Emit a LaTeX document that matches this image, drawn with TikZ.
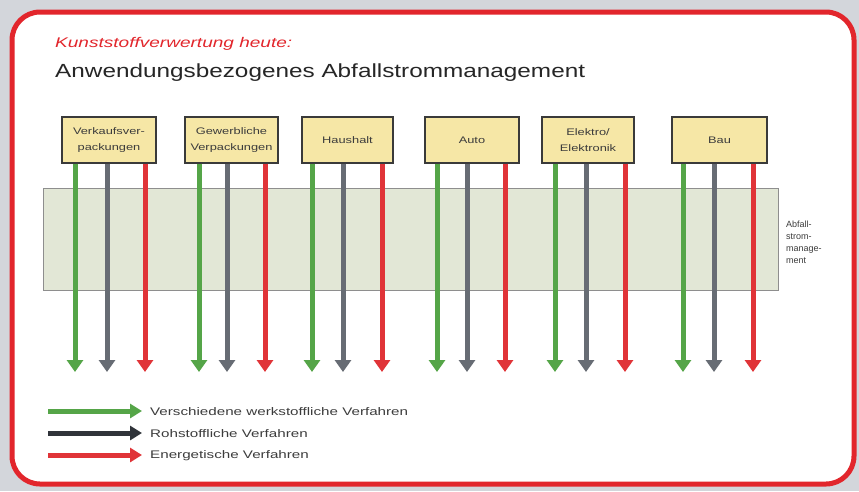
\documentclass[tikz,border=0pt]{standalone}
\usepackage{fontspec}
\setmainfont{Liberation Sans}
\usetikzlibrary{arrows.meta}
\definecolor{bord}{HTML}{E2262C}
\definecolor{bgg}{HTML}{D3D6DB}
\definecolor{boxfill}{HTML}{F6E7A6}
\definecolor{boxline}{HTML}{3A3A3A}
\definecolor{bandfill}{HTML}{E2E7D6}
\definecolor{bandline}{HTML}{8E8E8E}
\definecolor{agreen}{HTML}{55A548}
\definecolor{agray}{HTML}{676C74}
\definecolor{ared}{HTML}{E03438}
\definecolor{ldark}{HTML}{30343A}
\definecolor{txtgray}{HTML}{3C3C3C}
\tikzset{
  catbox/.style={draw=boxline, line width=1.4pt, fill=boxfill, minimum height=46pt,
    inner sep=1pt, align=center, font=\fontsize{9.5}{16}\selectfont\addfontfeature{FakeStretch=1.35}, text=txtgray},
  flow/.style={line width=5pt, -{Triangle[width=16pt,length=12pt]}},
  legarrow/.style={line width=5pt, -{Triangle[width=14pt,length=12pt]}},
  legtext/.style={anchor=west, inner sep=0pt, font=\fontsize{11}{13}\selectfont\addfontfeature{FakeStretch=1.38}, text=txtgray},
}
\begin{document}
\begin{tikzpicture}[x=1pt,y=-1pt]
\useasboundingbox (0,0) rectangle (859,491);
\fill[bgg] (0,0) rectangle (859,491);
\draw[bord, line width=5pt, rounded corners=28pt, fill=white] (12,12) rectangle (854,484);

\node[anchor=base west, inner sep=0pt, text=bord, font=\fontsize{14}{16}\itshape\addfontfeature{FakeStretch=1.36}] (sub) at (55,47) {Kunststoffverwertung heute:};
\node[anchor=base west, inner sep=0pt, text=black!85, font=\fontsize{19}{22}\selectfont\addfontfeature{FakeStretch=1.28}] (title) at (55,77) {Anwendungsbezogenes Abfallstrommanagement};

\node[draw=bandline, line width=0.8pt, fill=bandfill, minimum width=735pt, minimum height=102pt, inner sep=0pt] (band) at (410.5,239) {};
\node[anchor=north west, inner sep=0pt, align=left, font=\fontsize{9}{12}\selectfont, text=txtgray] (bandlab) at (786,221) {Abfall-\\strom-\\manage-\\ment};

\node[catbox, minimum width=94pt] (b1) at (109,140) {Verkaufsver-\\packungen};
\node[catbox, minimum width=93pt] (b2) at (231.5,140) {Gewerbliche\\Verpackungen};
\node[catbox, minimum width=91pt] (b3) at (347.5,140) {Haushalt};
\node[catbox, minimum width=94pt] (b4) at (472,140) {Auto};
\node[catbox, minimum width=92pt] (b5) at (588,140) {Elektro/\\Elektronik};
\node[catbox, minimum width=95pt] (b6) at (719.5,140) {Bau};

\foreach \g/\k/\r [count=\i] in {75/107/145, 199/227/265, 312/343/382, 437/467/505, 555/586/625, 683/714/753}{
  \coordinate (g\i) at (\g,372);
  \coordinate (k\i) at (\k,372);
  \coordinate (r\i) at (\r,372);
  \draw[flow, agreen] (b\i.south -| g\i) -- (g\i);
  \draw[flow, agray] (b\i.south -| k\i) -- (k\i);
  \draw[flow, ared] (b\i.south -| r\i) -- (r\i);
}

\coordinate (l1s) at (48,411); \coordinate (l1e) at (142,411);
\coordinate (l2s) at (48,433); \coordinate (l2e) at (142,433);
\coordinate (l3s) at (48,455); \coordinate (l3e) at (142,455);
\draw[legarrow, agreen] (l1s) -- (l1e);
\draw[legarrow, ldark] (l2s) -- (l2e);
\draw[legarrow, ared] (l3s) -- (l3e);
\node[legtext] (t1) at (150,412) {Verschiedene werkstoffliche Verfahren};
\node[legtext] (t2) at (150,434) {Rohstoffliche Verfahren};
\node[legtext] (t3) at (150,456) {Energetische Verfahren};
\end{tikzpicture}
\end{document}
